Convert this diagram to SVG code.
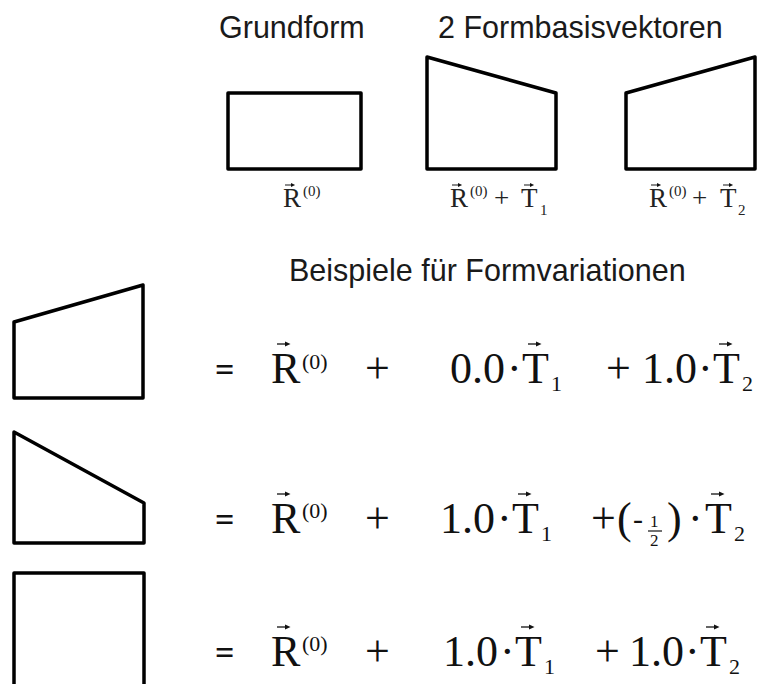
<svg xmlns="http://www.w3.org/2000/svg" xmlns:xlink="http://www.w3.org/1999/xlink" width="764" height="684" viewBox="0 0 764 684">
<style>
.shape{fill:none;stroke:#000;stroke-width:3.5;stroke-linejoin:round}
.head{font-family:"Liberation Sans",Arial,sans-serif;font-size:30.5px;fill:#1a1a1a}
.m{font-family:"Liberation Serif","Times New Roman",serif;font-size:44px;fill:#111}
.eq{font-family:"Liberation Serif","Times New Roman",serif;font-size:34px;font-weight:bold;fill:#111}
.ms{font-family:"Liberation Serif","Times New Roman",serif;font-size:22px;fill:#111}
.lab{font-family:"Liberation Serif","Times New Roman",serif;font-size:27px;fill:#222}
.labs{font-family:"Liberation Serif","Times New Roman",serif;font-size:15px;fill:#222}
</style>
<defs>
<g id="vec"><path d="M0,0 H10" stroke="#111" stroke-width="1.3"/><path d="M8,-2.6 L13.5,0 L8,2.6 Z" fill="#111"/></g>
</defs>
<rect width="764" height="684" fill="#fff"/>

<g id="headings">
<text class="head" x="219" y="38">Grundform</text>
<text class="head" x="438" y="38">2 Formbasisvektoren</text>
<text class="head" x="289" y="281">Beispiele für Formvariationen</text>
</g>

<g id="node-grundform">
<rect class="shape" x="228" y="93" width="133" height="76"/>
<text class="lab" x="283" y="207">R</text><use xlink:href="#vec" transform="translate(285,185) scale(0.75)"/>
<text class="labs" x="303" y="196">(0)</text>
</g>

<g id="node-basis-t1">
<path class="shape" d="M427,57 L556,93 L556,169 L427,169 Z"/>
<text class="lab" x="450" y="207">R</text><use xlink:href="#vec" transform="translate(452,185) scale(0.75)"/>
<text class="labs" x="470" y="196">(0)</text>
<text class="lab" x="494" y="207">+</text>
<text class="lab" x="521" y="207">T</text><use xlink:href="#vec" transform="translate(524,185) scale(0.75)"/>
<text class="labs" x="540" y="215">1</text>
</g>

<g id="node-basis-t2">
<path class="shape" d="M626,93 L755,57 L755,169 L626,169 Z"/>
<text class="lab" x="649" y="207">R</text><use xlink:href="#vec" transform="translate(651,185) scale(0.75)"/>
<text class="labs" x="669" y="196">(0)</text>
<text class="lab" x="692" y="207">+</text>
<text class="lab" x="720" y="207">T</text><use xlink:href="#vec" transform="translate(723,185) scale(0.75)"/>
<text class="labs" x="738" y="215">2</text>
</g>

<g id="node-example-1">
<path class="shape" d="M14,322 L143,285 L143,398 L14,398 Z"/>
</g>
<g id="eq-1">
<text class="eq" x="215" y="381">=</text>
<text class="m" x="271" y="383">R</text><use xlink:href="#vec" x="277" y="344"/>
<text class="ms" x="302" y="369">(0)</text>
<text class="m" x="365" y="383">+</text>
<text class="m" x="450" y="383">0.0</text>
<text class="m" x="507" y="383">·</text>
<text class="m" x="522" y="383">T</text><use xlink:href="#vec" x="528" y="344"/>
<text class="ms" x="551" y="391">1</text>
<text class="m" x="606" y="383">+</text>
<text class="m" x="642" y="383">1.0</text>
<text class="m" x="698" y="383">·</text>
<text class="m" x="713" y="383">T</text><use xlink:href="#vec" x="719" y="344"/>
<text class="ms" x="742" y="391">2</text>
</g>

<g id="node-example-2">
<path class="shape" d="M14,432 L144,503 L144,543 L14,543 Z"/>
</g>
<g id="eq-2">
<text class="eq" x="215" y="531">=</text>
<text class="m" x="271" y="533">R</text><use xlink:href="#vec" x="277" y="494"/>
<text class="ms" x="302" y="518">(0)</text>
<text class="m" x="365" y="533">+</text>
<text class="m" x="440" y="533">1.0</text>
<text class="m" x="497" y="533">·</text>
<text class="m" x="512" y="533">T</text><use xlink:href="#vec" x="518" y="494"/>
<text class="ms" x="541" y="541">1</text>
<text class="m" x="591" y="533">+</text>
<text class="m" x="617" y="533">(</text>
<text class="m" x="633" y="529" style="font-size:30px">-</text>
<text class="ms" x="650" y="527" style="font-size:17px">1</text>
<path d="M648,531 H662" stroke="#111" stroke-width="1.2"/>
<text class="ms" x="650" y="546" style="font-size:17px">2</text>
<text class="m" x="667" y="533">)</text>
<text class="m" x="688" y="533">·</text>
<text class="m" x="705" y="533">T</text><use xlink:href="#vec" x="711" y="494"/>
<text class="ms" x="734" y="541">2</text>
</g>

<g id="node-example-3">
<rect class="shape" x="14" y="573" width="130" height="130"/>
</g>
<g id="eq-3">
<text class="eq" x="215" y="664">=</text>
<text class="m" x="271" y="666">R</text><use xlink:href="#vec" x="277" y="627"/>
<text class="ms" x="302" y="651">(0)</text>
<text class="m" x="365" y="666">+</text>
<text class="m" x="443" y="666">1.0</text>
<text class="m" x="500" y="666">·</text>
<text class="m" x="515" y="666">T</text><use xlink:href="#vec" x="521" y="627"/>
<text class="ms" x="544" y="674">1</text>
<text class="m" x="595" y="666">+</text>
<text class="m" x="629" y="666">1.0</text>
<text class="m" x="685" y="666">·</text>
<text class="m" x="700" y="666">T</text><use xlink:href="#vec" x="706" y="627"/>
<text class="ms" x="729" y="674">2</text>
</g>

<g id="connectors"/>
</svg>
